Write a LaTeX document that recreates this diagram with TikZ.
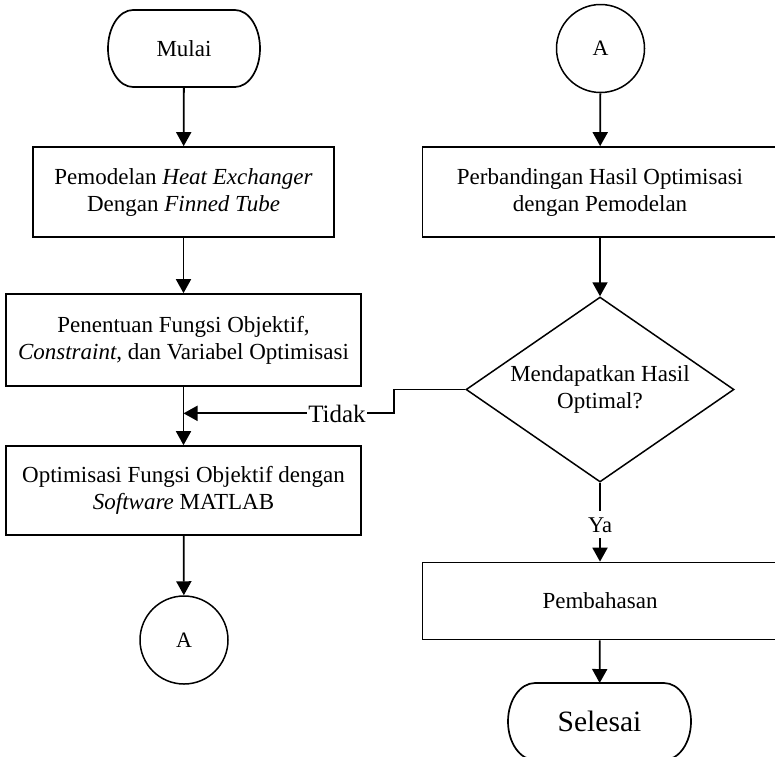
\documentclass[tikz,border=0pt]{standalone}
\usepackage{fontspec}
\setmainfont{Liberation Serif}
\usetikzlibrary{shapes.geometric,arrows.meta}
\newcommand\myterm[3]{\draw[line width=1.7pt] ([xshift=#2]#1.north west) -- ([xshift=-#2]#1.north east) arc[start angle=90,end angle=-90,x radius=#2,y radius=#3] -- ([xshift=#2]#1.south west) arc[start angle=270,end angle=90,x radius=#2,y radius=#3] -- cycle;}
\begin{document}
\begin{tikzpicture}[x=1pt,y=-1pt,
  txt/.style={font=\fontsize{23}{27}\selectfont},
  box/.style={txt, draw, line width=1.7pt, rectangle, align=center, inner sep=0pt, minimum width=355pt},
  term/.style={txt, draw=none, rectangle, inner sep=0pt, outer sep=0pt, minimum width=152pt, minimum height=77pt},
  conn/.style={font=\fontsize{22}{26}\selectfont, draw, circle, line width=1.5pt, inner sep=0pt, minimum size=88pt},
  dec/.style={txt, draw, diamond, aspect=1.45, line width=1.5pt, align=center, inner sep=0pt, minimum width=268pt, minimum height=185pt},
  lbl/.style={anchor=base, text depth=0pt},
  arr/.style={line width=1.8pt, -{Triangle[width=15pt,length=14pt]}},
  ln/.style={line width=1.8pt}]
\useasboundingbox (0,0) rectangle (775,756);
\clip (0,0) rectangle (775,756);

% left column
\node[term] (mulai) at (184,48.5) {Mulai};
\myterm{mulai}{25pt}{38.5pt}
\node[box, minimum width=301pt, minimum height=90pt] (b1) at (183.5,192) {Pemodelan \textit{Heat Exchanger}\\Dengan \textit{Finned Tube}};
\node[box, minimum height=92pt] (b2) at (183.5,340) {Penentuan Fungsi Objektif,\\\textit{Constraint}, dan Variabel Optimisasi};
\node[box, minimum height=89pt] (b3) at (183.5,490.5) {Optimisasi Fungsi Objektif dengan\\\textit{Software} MATLAB};
\node[conn] (a1) at (184,640) {A};

% right column
\node[conn] (a2) at (600.5,48.5) {A};
\node[box, minimum height=90pt] (r1) at (600,192) {Perbandingan Hasil Optimisasi\\dengan Pemodelan};
\node[dec] (d) at (600,389.5) {Mendapatkan Hasil\\Optimal?};
\node[box, minimum height=77pt] (pb) at (600,601) {Pembahasan};
\node[term, minimum width=183pt, font=\fontsize{29.5}{34}\selectfont] (sel) at (599.5,721.5) {Selesai};
\myterm{sel}{27pt}{38.5pt}

% labels
\node[lbl, font=\fontsize{25}{29}\selectfont, inner xsep=1.5pt, inner ysep=2pt] (tidak) at (337,422) {Tidak};
\node[lbl, font=\fontsize{22.5}{26}\selectfont, inner xsep=1pt, inner ysep=6pt] (ya) at (600,532) {Ya};

% connectors
\draw[arr] (mulai) -- (b1);
\draw[arr] (b1) -- (b2);
\draw[arr] (b2) -- (b3);
\draw[arr] (b3) -- (a1);
\draw[arr] (a2) -- (r1);
\draw[arr] (r1) -- (d);
\draw[ln] (d.west) -- ++(-71,0) |- (tidak.east);
\draw[arr] (tidak.west) -- (tidak.west -| b2.south);
\draw[ln] (d.south) -- (ya.north);
\draw[arr] (ya.south) -- (pb.north);
\draw[arr] (pb) -- (sel);
\end{tikzpicture}
\end{document}
